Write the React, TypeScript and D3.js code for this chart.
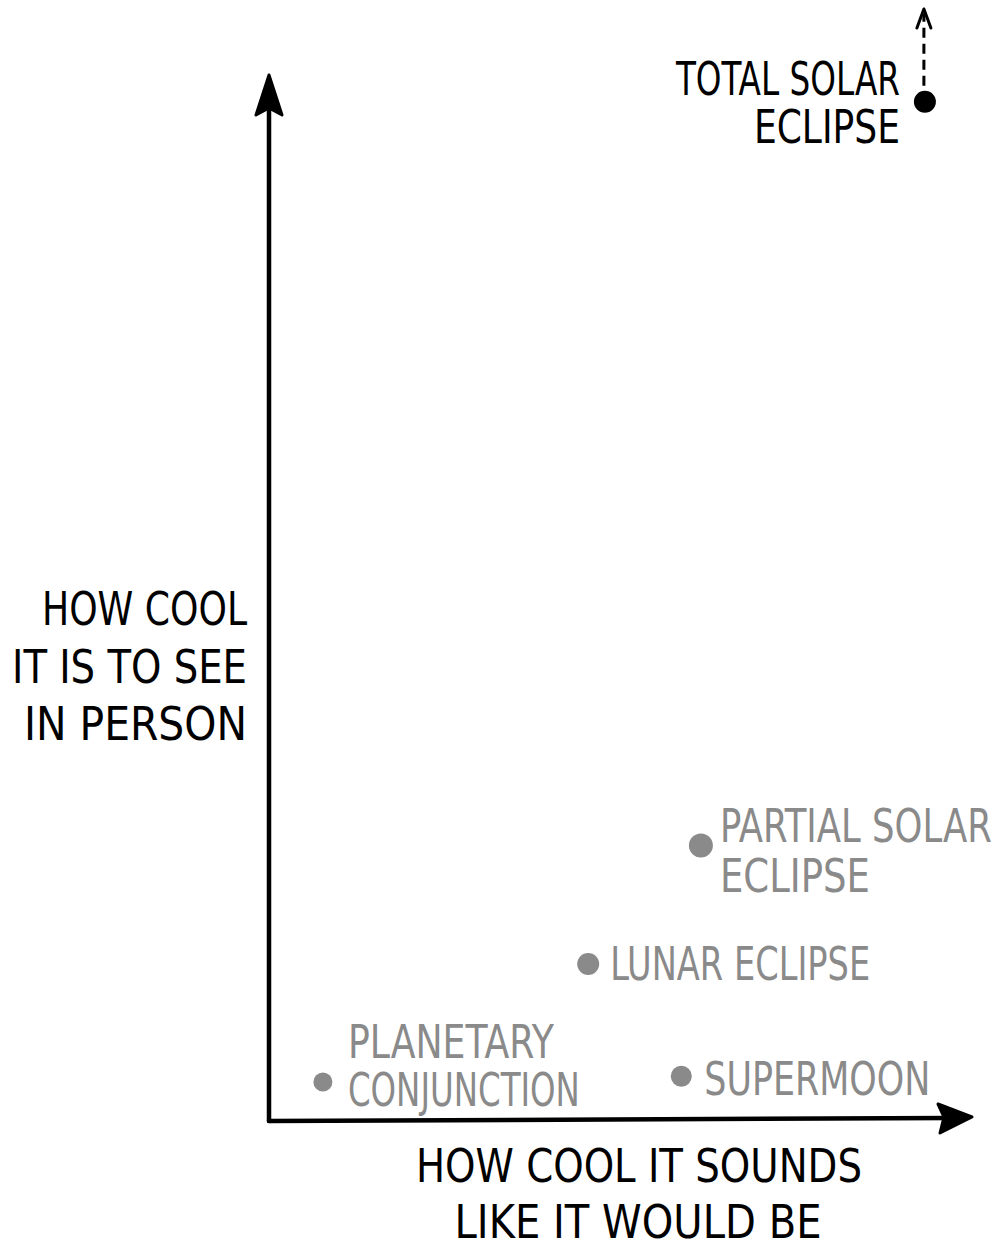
import React from "react";
import * as d3 from "d3";

const names = ["TOTAL SOLAR ECLIPSE", "PARTIAL SOLAR ECLIPSE", "LUNAR ECLIPSE", "PLANETARY CONJUNCTION", "SUPERMOON"];
const soundsCool = [93.7, 61.7, 45.6, 7.7, 58.9];
const seeCool = [98, 26.5, 15.1, 3.75, 4.3];
const highlighted = [true, false, false, false, false];
const xAxisLabel = ["HOW COOL IT SOUNDS", "LIKE IT WOULD BE"];
const yAxisLabel = ["HOW COOL", "IT IS TO SEE", "IN PERSON"];

// label layout: lines, anchor, dx, dy per line, textLength per line
const labelLayout: Record<string, { lines: string[]; anchor: string; dx: number; dy: number[]; len: number[]; r: number }> = {
  "TOTAL SOLAR ECLIPSE": { lines: ["TOTAL SOLAR", "ECLIPSE"], anchor: "end", dx: -25, dy: [-7, 41], len: [224, 146], r: 11 },
  "PARTIAL SOLAR ECLIPSE": { lines: ["PARTIAL SOLAR", "ECLIPSE"], anchor: "start", dx: 19, dy: [-3, 47], len: [272, 150], r: 12 },
  "LUNAR ECLIPSE": { lines: ["LUNAR ECLIPSE"], anchor: "start", dx: 22, dy: [16], len: [260], r: 11 },
  "PLANETARY CONJUNCTION": { lines: ["PLANETARY", "CONJUNCTION"], anchor: "start", dx: 25, dy: [-24, 24], len: [206, 232], r: 9.5 },
  "SUPERMOON": { lines: ["SUPERMOON"], anchor: "start", dx: 23, dy: [19], len: [226], r: 10.5 },
};

const W = 1000;
const H = 1244;
const FONT = "'Liberation Sans Narrow', 'DejaVu Sans Condensed', 'Liberation Sans', sans-serif";
const GRAY = "#8a8a8a";

export default function App() {
  const x = d3.scaleLinear().domain([0, 100]).range([269, 969]);
  const y = d3.scaleLinear().domain([0, 100]).range([1121, 81]);
  const x0 = x(0);
  const y0 = y(0);
  const xEnd = 972;
  const yEnd = 75;

  const yArrow = d3.line()([
    [x0, yEnd],
    [x0 - 13, yEnd + 40],
    [x0, yEnd + 33],
    [x0 + 13, yEnd + 40],
  ]) + "Z";
  const xArrow = d3.line()([
    [xEnd, y0 - 4],
    [xEnd - 34, y0 - 17],
    [xEnd - 28, y0 - 4],
    [xEnd - 32, y0 + 12],
  ]) + "Z";

  const ti = 0;
  const tx = x(soundsCool[ti]);
  const ty = y(seeCool[ti]);

  return (
    <svg width={W} height={H} style={{ position: "absolute", top: 0, left: 0, display: "block", background: "#fff" }}>
      <rect width={W} height={H} fill="#fff" />
      {/* axes */}
      <line x1={x0} y1={y0} x2={x0} y2={yEnd + 20} stroke="#000" strokeWidth={4.5} strokeLinecap="round" />
      <line x1={x0} y1={y0} x2={xEnd - 20} y2={y0 - 3} stroke="#000" strokeWidth={4.5} strokeLinecap="round" />
      <path d={yArrow} fill="#000" stroke="#000" strokeWidth={3} strokeLinejoin="round" />
      <path d={xArrow} fill="#000" stroke="#000" strokeWidth={3} strokeLinejoin="round" />

      {/* y label */}
      {yAxisLabel.map((t, i) => (
        <text key={t} x={247} y={625 + i * 57.5} textAnchor="end" fontFamily={FONT} fontSize={46}
          textLength={[205, 235, 223][i]} lengthAdjust="spacingAndGlyphs" fill="#000">{t}</text>
      ))}
      {/* x label */}
      {xAxisLabel.map((t, i) => (
        <text key={t} x={639 - 1 * i} y={1182 + i * 56} textAnchor="middle" fontFamily={FONT} fontSize={46}
          textLength={[446, 367][i]} lengthAdjust="spacingAndGlyphs" fill="#000">{t}</text>
      ))}

      {/* dashed arrow for total eclipse */}
      <line x1={tx - 1} y1={ty - 16} x2={tx - 1} y2={14} stroke="#000" strokeWidth={3} strokeDasharray="10 6" />
      <path d={d3.line()([[tx - 8, 28], [tx - 1, 9], [tx + 6, 28]]) as string} fill="none" stroke="#000" strokeWidth={3} strokeLinecap="round" strokeLinejoin="round" />

      {names.map((n, i) => {
        const cx = x(soundsCool[i]);
        const cy = y(seeCool[i]);
        const L = labelLayout[n];
        const col = highlighted[i] ? "#000" : GRAY;
        return (
          <g key={n}>
            <circle cx={cx} cy={cy} r={L.r} fill={col} />
            {L.lines.map((t, j) => (
              <text key={j} x={cx + L.dx} y={cy + L.dy[j]} textAnchor={L.anchor} fontFamily={FONT} fontSize={46}
                textLength={L.len[j]} lengthAdjust="spacingAndGlyphs" fill={col}>{t}</text>
            ))}
          </g>
        );
      })}
    </svg>
  );
}
